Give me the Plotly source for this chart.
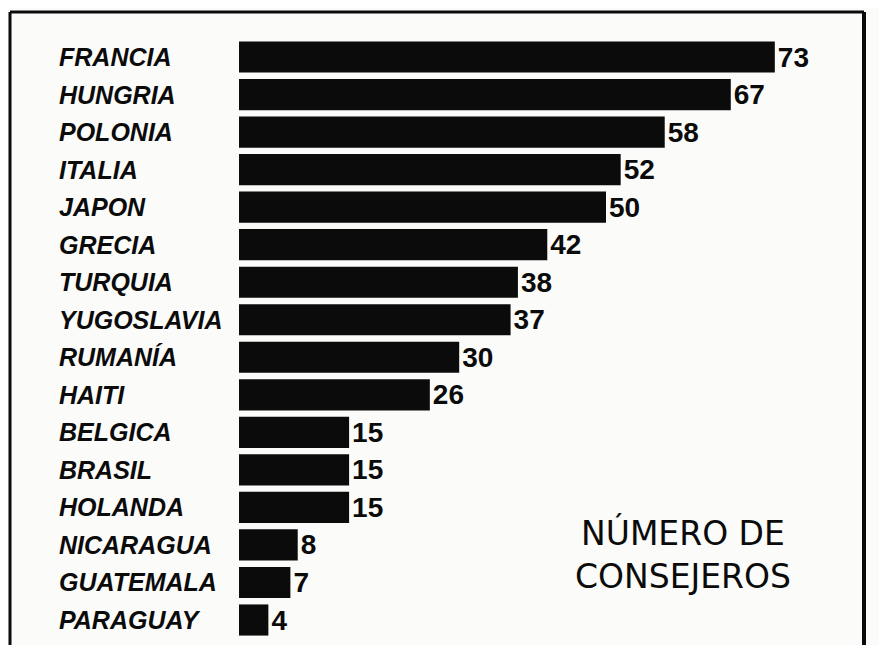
import plotly.graph_objects as go

countries = ["FRANCIA", "HUNGRIA", "POLONIA", "ITALIA", "JAPON", "GRECIA", "TURQUIA",
             "YUGOSLAVIA", "RUMANÍA", "HAITI", "BELGICA", "BRASIL", "HOLANDA",
             "NICARAGUA", "GUATEMALA", "PARAGUAY"]
consejeros = [73, 67, 58, 52, 50, 42, 38, 37, 30, 26, 15, 15, 15, 8, 7, 4]
legend_text = "NÚMERO DE<br>CONSEJEROS"

ink = "#0b0b0b"
bg = "#fbfbfa"
label_font = "Liberation Sans, Arial, sans-serif"

fig = go.Figure()
fig.add_trace(go.Bar(
    x=consejeros, y=countries, orientation="h",
    marker=dict(color=ink, line=dict(width=0)),
    width=0.83,
    text=["<b>%d</b>" % v for v in consejeros], textposition="outside",
    textfont=dict(family=label_font, size=28, color=ink),
    cliponaxis=False,
    hoverinfo="skip",
))

for c in countries:
    fig.add_annotation(
        x=0.055, xref="paper", y=c, yref="y",
        text="<b><i>%s</i></b>" % c, showarrow=False,
        xanchor="left", yanchor="middle",
        font=dict(family=label_font, size=25, color=ink),
    )

fig.add_annotation(
    x=60.5, xref="x", y=0.1437, yref="paper",
    text=legend_text, showarrow=False, xanchor="center", yanchor="middle",
    font=dict(family="DejaVu Sans, sans-serif", size=33, color=ink),
)

# frame: top, left, right
for (x0, y0, x1, y1, w) in [(0, 1, 1, 1, 3), (0, 0, 0, 1, 3), (1, 0, 1, 1, 4)]:
    fig.add_shape(type="line", xref="paper", yref="paper", x0=x0, y0=y0, x1=x1, y1=y1,
                  line=dict(color=ink, width=w))

# the page body has an 8px default margin; the figure is sized to fit the window
fig.update_layout(
    width=879, height=637,
    margin=dict(l=2, r=23, t=4, b=0),
    paper_bgcolor=bg, plot_bgcolor=bg,
    showlegend=False,
    xaxis=dict(range=[-31.2, 85.15], visible=False, showgrid=False, zeroline=False),
    yaxis=dict(categoryorder="array", categoryarray=countries,
               range=[15.666, -1.2], visible=False, showgrid=False, zeroline=False),
)

fig.write_html("out.html")
